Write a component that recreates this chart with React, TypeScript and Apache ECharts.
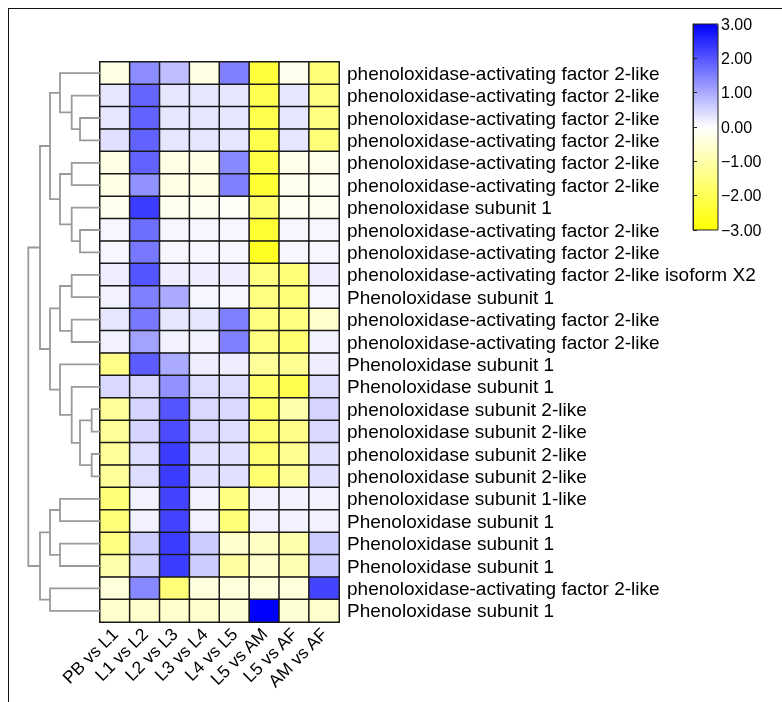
import React, { useEffect, useRef } from "react";
import * as echarts from "echarts";

const columns = ["PB vs L1", "L1 vs L2", "L2 vs L3", "L3 vs L4", "L4 vs L5", "L5 vs AM", "L5 vs AF", "AM vs AF"];

const rowLabels = [
  "phenoloxidase-activating factor 2-like",
  "phenoloxidase-activating factor 2-like",
  "phenoloxidase-activating factor 2-like",
  "phenoloxidase-activating factor 2-like",
  "phenoloxidase-activating factor 2-like",
  "phenoloxidase-activating factor 2-like",
  "phenoloxidase subunit 1",
  "phenoloxidase-activating factor 2-like",
  "phenoloxidase-activating factor 2-like",
  "phenoloxidase-activating factor 2-like isoform X2",
  "Phenoloxidase subunit 1",
  "phenoloxidase-activating factor 2-like",
  "phenoloxidase-activating factor 2-like",
  "Phenoloxidase subunit 1",
  "Phenoloxidase subunit 1",
  "phenoloxidase subunit 2-like",
  "phenoloxidase subunit 2-like",
  "phenoloxidase subunit 2-like",
  "phenoloxidase subunit 2-like",
  "phenoloxidase subunit 1-like",
  "Phenoloxidase subunit 1",
  "Phenoloxidase subunit 1",
  "Phenoloxidase subunit 1",
  "phenoloxidase-activating factor 2-like",
  "Phenoloxidase subunit 1",
];

// one row per gene, one value per comparison (log2 fold change)
const values: number[][] = [
  [-0.3, 1.35, 0.75, -0.3, 1.5, -2.3, -0.2, -1.6],
  [0.3, 1.8, 0.3, 0.3, 0.3, -2.05, 0.3, -1.5],
  [0.3, 1.85, 0.3, 0.3, 0.3, -2.1, 0.3, -1.5],
  [0.35, 1.85, 0.3, 0.3, 0.3, -2.1, 0.3, -1.6],
  [-0.3, 1.85, -0.3, -0.3, 1.4, -2.2, -0.25, -0.25],
  [-0.3, 1.3, -0.3, -0.3, 1.5, -2.4, -0.2, -0.2],
  [-0.2, 2.3, -0.2, -0.2, -0.1, -1.7, -0.15, -0.2],
  [0.1, 1.7, 0.1, 0.1, 0.1, -2.4, 0.1, 0.1],
  [0.1, 1.6, 0.1, 0.1, 0.1, -2.6, 0.1, 0.1],
  [0.2, 2.0, 0.2, 0.2, 0.2, -1.5, -1.6, 0.2],
  [0.15, 1.5, 1.0, 0.1, 0.1, -1.5, -1.6, 0.1],
  [0.3, 1.6, 0.3, 0.3, 1.5, -1.5, -1.5, -0.6],
  [0.15, 1.1, 0.15, 0.15, 1.5, -1.5, -1.7, 0.15],
  [-1.4, 1.9, 1.0, 0.2, 0.2, -1.2, -1.3, 0.2],
  [0.45, 0.45, 1.3, 0.4, 0.4, -1.8, -2.1, 0.4],
  [-1.2, 0.5, 2.0, 0.45, 0.45, -1.8, -1.0, 0.5],
  [-1.2, 0.5, 2.1, 0.45, 0.4, -1.7, -1.4, 0.45],
  [-1.2, 0.4, 2.3, 0.35, 0.35, -1.7, -1.3, 0.35],
  [-1.2, 0.4, 2.3, 0.35, 0.35, -1.7, -1.3, 0.35],
  [-1.6, 0.15, 2.2, 0.15, -1.5, 0.15, 0.15, 0.15],
  [-1.6, 0.15, 2.2, 0.15, -1.6, 0.15, 0.15, 0.15],
  [-1.5, 0.6, 2.3, 0.6, -0.6, -0.7, -1.0, 0.6],
  [-1.0, 0.6, 2.3, 0.6, -1.1, -0.6, -0.9, 0.6],
  [-0.4, 1.4, -1.6, -0.4, -0.4, -0.4, -0.4, 2.2],
  [-0.6, -0.6, -0.6, -0.6, -0.5, 3.0, -0.5, -0.6],
];

const colorbarTicks = [-3, -2, -1, 0, 1, 2, 3];

// row clustering: [height, left, right]; leaves are row indices
type Node = number | [number, Node, Node];
const dendrogram: Node = [71.7,
  [60,
    [50,
      [40, 0, [28.3, 1, [20, 2, 3]]],
      [40, [28.3, 4, 5], [28.3, 6, [20, 7, 8]]]],
    [50,
      [40, [28.3, 9, 10], [28.3, 11, 12]],
      [40, 13, [28.3, 14, [20, [8.3, 15, 16], [8.3, 17, 18]]]]]],
  [60,
    [50, [40, 19, 20], [40, 21, 22]],
    [50, 23, 24]]];

const FONT = "'Liberation Sans', Arial, sans-serif";

function buildLinks(tree: Node) {
  const links: { coords: number[][] }[] = [];
  const walk = (n: Node): { x: number; y: number } => {
    if (typeof n === "number") return { x: 0, y: n };
    const [h, a, b] = n;
    const ca = walk(a);
    const cb = walk(b);
    links.push({ coords: [[ca.x, ca.y], [h, ca.y], [h, cb.y], [cb.x, cb.y]] });
    return { x: h, y: (ca.y + cb.y) / 2 };
  };
  walk(tree);
  return links;
}

export default function App() {
  const ref = useRef<HTMLDivElement>(null);
  useEffect(() => {
    if (!ref.current) return;
    const chart = echarts.init(ref.current, null, { renderer: "svg" });
    const heatData: number[][] = [];
    values.forEach((row, r) => row.forEach((v, c) => heatData.push([c, r, v])));
    const minTick = colorbarTicks[0];
    const maxTick = colorbarTicks[colorbarTicks.length - 1];
    chart.setOption({
      animation: false,
      backgroundColor: "transparent",
      grid: [
        { left: 100, top: 62, width: 239, height: 560, show: false },
        { left: 693, top: 24, width: 25, height: 206, show: true, borderColor: "#222", borderWidth: 1, backgroundColor: "transparent", z: 10 },
        { left: 28, top: 62, width: 72, height: 560, show: false },
      ],
      xAxis: [
        {
          type: "category", gridIndex: 0, data: columns, position: "bottom",
          axisLine: { show: false }, axisTick: { show: false }, splitLine: { show: false },
          axisLabel: { rotate: 45, interval: 0, fontSize: 17.5, color: "#000", fontFamily: FONT, margin: 9 },
        },
        { type: "value", gridIndex: 1, show: false, min: 0, max: 1 },
        { type: "value", gridIndex: 2, show: false, min: 0, max: 72, inverse: true },
      ],
      yAxis: [
        {
          type: "category", gridIndex: 0, data: rowLabels, inverse: true, position: "right",
          axisLine: { show: false }, axisTick: { show: false }, splitLine: { show: false },
          axisLabel: { interval: 0, fontSize: 19, color: "#000", fontFamily: FONT, margin: 8 },
        },
        {
          type: "value", gridIndex: 1, min: minTick, max: maxTick, interval: 1, position: "right", z: 10,
          axisLine: { show: true, lineStyle: { color: "#222", width: 1 } },
          axisTick: { show: true, length: 4, lineStyle: { color: "#222" } },
          splitLine: { show: false },
          axisLabel: {
            fontSize: 16, color: "#000", fontFamily: FONT, margin: 3,
            formatter: (v: number) => (v < 0 ? "\u2212" + Math.abs(v).toFixed(2) : v.toFixed(2)),
          },
        },
        { type: "value", gridIndex: 2, show: false, min: -0.5, max: 24.5, inverse: true },
      ],
      visualMap: {
        type: "continuous", min: minTick, max: maxTick, seriesIndex: 0, calculable: false,
        orient: "vertical", left: 693, top: 24, itemWidth: 25, itemHeight: 206, padding: 0,
        inRange: { color: ["#ffff00", "#ffffff", "#0000ff"] },
        text: ["", ""], showLabel: false,
      },
      series: [
        {
          type: "heatmap", xAxisIndex: 0, yAxisIndex: 0, data: heatData,
          itemStyle: { borderColor: "#1a1a1a", borderWidth: 1.5 },
          emphasis: { disabled: true },
        },
        {
          type: "lines", coordinateSystem: "cartesian2d", xAxisIndex: 2, yAxisIndex: 2, polyline: true,
          data: buildLinks(dendrogram),
          lineStyle: { color: "#9a9a9a", width: 1.8, opacity: 1 },
          silent: true,
        },
      ],
    });
    return () => chart.dispose();
  }, []);
  return (
    <div>
      <div style={{ position: "fixed", left: 8, top: 8, width: 800, height: 800, border: "1.5px solid #111", boxSizing: "border-box" }} />
      <div ref={ref} style={{ position: "fixed", left: 0, top: 0, width: 782, height: 702 }} />
    </div>
  );
}
